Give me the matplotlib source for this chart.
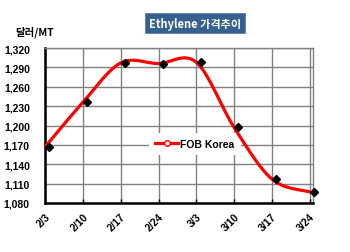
import numpy as np
import matplotlib
matplotlib.use("Agg")
import matplotlib.pyplot as plt
from matplotlib.transforms import ScaledTranslation

# weekly dates (days from 2/3) and prices
dates = ["2/3", "2/10", "2/17", "2/24", "3/3", "3/10", "3/17", "3/24"]
days = [0, 7, 14, 21, 28, 35, 42, 49]
fob_korea = [1167, 1236, 1297, 1296, 1298, 1197, 1117, 1097]
y_ticks = [1080, 1110, 1140, 1170, 1200, 1230, 1260, 1290, 1320]

MARKER_SHIFT = 0.8  # diamonds sit a little right of the line points


def smooth(xs, ys, n=30):
    # catmull-rom style smoothing like excel "smoothed line"
    xs = np.asarray(xs, float)
    ys = np.asarray(ys, float)
    px, py = [], []
    k = len(xs)
    for i in range(k - 1):
        x0, y0 = (xs[i - 1], ys[i - 1]) if i > 0 else (xs[i], ys[i])
        x3, y3 = (xs[i + 2], ys[i + 2]) if i + 2 < k else (xs[i + 1], ys[i + 1])
        x1, y1, x2, y2 = xs[i], ys[i], xs[i + 1], ys[i + 1]
        c1x, c1y = x1 + (x2 - x0) / 6, y1 + (y2 - y0) / 6
        c2x, c2y = x2 - (x3 - x1) / 6, y2 - (y3 - y1) / 6
        t = np.linspace(0, 1, n)
        bx = (1-t)**3*x1 + 3*(1-t)**2*t*c1x + 3*(1-t)*t**2*c2x + t**3*x2
        by = (1-t)**3*y1 + 3*(1-t)**2*t*c1y + 3*(1-t)*t**2*c2y + t**3*y2
        px.extend(bx)
        py.extend(by)
    return np.array(px), np.array(py)


fig = plt.figure(figsize=(3.5, 2.53), dpi=100)
ax = fig.add_axes([0.129, 0.194, 0.765, 0.612])

sx, sy = smooth(days, fob_korea)
ax.plot(sx, sy, color="#FF0000", lw=2.3, zorder=6, solid_capstyle="round")
ax.plot(np.array(days) + MARKER_SHIFT, fob_korea, ls="none", marker="D",
        color="black", ms=4.2, zorder=7, clip_on=False)

# legend handle
ax.plot([], [], color="#FF0000", lw=2.3, marker="o", ms=4,
        mfc="white", mec="#FF0000", label="FOB Korea")
leg = ax.legend(loc="center", bbox_to_anchor=(0.56, 0.38), frameon=True,
                facecolor="white", edgecolor="none", framealpha=1,
                prop={"family": "Liberation Sans", "weight": "bold", "size": 7.5},
                handlelength=2.2, handletextpad=0.2, borderpad=0.6)
leg.set_zorder(5)

ax.set_xlim(0, 49.6)
ax.set_ylim(1080, 1320)
ax.set_yticks(y_ticks)
ax.set_yticklabels([f"{v:,}" for v in y_ticks])
ax.set_xticks(days)
ax.set_xticklabels(dates, rotation=45, ha="right", va="top",
                   rotation_mode="anchor")
shift = ScaledTranslation(4 / 100, 0, fig.dpi_scale_trans)
for lab in ax.get_xticklabels():
    lab.set_transform(lab.get_transform() + shift)
for lab in ax.get_xticklabels() + ax.get_yticklabels():
    lab.set_fontfamily("Liberation Sans")
    lab.set_fontweight("bold")
    lab.set_fontsize(7.5)
ax.tick_params(axis="y", length=0, pad=11)
ax.tick_params(axis="x", length=3, width=1, pad=6, direction="in")

ax.grid(True, color="#808080", lw=1)
ax.set_axisbelow(True)
for s in ["top", "right"]:
    ax.spines[s].set_color("#808080")
    ax.spines[s].set_linewidth(1)
for s in ["left", "bottom"]:
    ax.spines[s].set_color("black")
    ax.spines[s].set_linewidth(1.8)

fig.text(0.557, 0.905, "Ethylene 가격추이", ha="center", va="center",
         color="white", fontsize=8, fontweight="bold",
         family=["Noto Sans CJK KR", "DejaVu Sans"],
         bbox=dict(boxstyle="square,pad=0.35", fc="#35608F", ec="#5A7FA8", lw=0.6))
fig.text(0.043, 0.872, "달러/MT", ha="left", va="center", color="black",
         fontsize=7.5, fontweight="bold",
         family=["Noto Sans CJK KR", "DejaVu Sans"])

fig.savefig("out.png", dpi=100, facecolor="white")
